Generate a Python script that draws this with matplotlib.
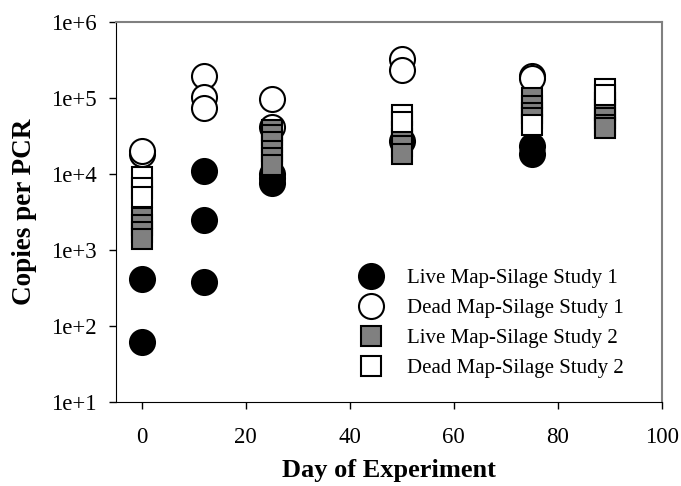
import numpy as np
from matplotlib import pyplot as plt

plt.rcParams['font.family'] = ['Liberation Serif', 'DejaVu Serif']

# day, copies per PCR
live1_day = [0, 0, 12, 12, 12, 25, 25, 25, 50, 75, 75]
live1_val = [62, 420, 11000, 2450, 380, 10000, 8900, 7600, 27000, 23000, 18000]

dead1_day = [0, 0, 12, 12, 12, 25, 25, 50, 50, 75, 75]
dead1_val = [18000, 20000, 194000, 103000, 74000, 98000, 41000, 320000, 230000, 196000, 180000]

live2_day = [0, 0, 0, 0, 25, 25, 25, 25, 25, 25, 50, 50, 50, 50,
             75, 75, 75, 75, 89, 89, 89, 89, 89]
live2_val = [2600, 2100, 1700, 1400, 38000, 32000, 26000, 20000, 16000, 13000,
             36000, 29000, 23000, 18000, 100000, 78000, 63000, 55000,
             86000, 69000, 55000, 44000, 40000]

dead2_day = [0, 0, 0, 50, 50, 75, 89, 89]
dead2_val = [9100, 6600, 5000, 60000, 48000, 44000, 130000, 110000]

labels = ['Live Map-Silage Study 1', 'Dead Map-Silage Study 1',
          'Live Map-Silage Study 2', 'Dead Map-Silage Study 2']

fig = plt.figure(figsize=(6.81, 4.86), dpi=100)
ax = fig.add_axes([0.170, 0.173, 0.802, 0.782])

ax.plot(live1_day, live1_val, 'o', ms=18, mfc='black', mec='black', mew=1.5, label=labels[0])
ax.plot(dead1_day, dead1_val, 'o', ms=18, mfc='white', mec='black', mew=1.5, label=labels[1])
ax.plot(live2_day, live2_val, 's', ms=14.5, mfc='#808080', mec='black', mew=1.5, label=labels[2])
ax.plot(dead2_day, dead2_val, 's', ms=14.5, mfc='white', mec='black', mew=1.5, label=labels[3])

ax.set_yscale('log')
ax.set_ylim(10, 1e6)
ax.set_xlim(-5, 100)
ax.set_xticks(np.arange(0, 101, 20))
ax.set_yticks([1e1, 1e2, 1e3, 1e4, 1e5, 1e6])
ax.set_yticklabels(['1e+1', '1e+2', '1e+3', '1e+4', '1e+5', '1e+6'])
ax.yaxis.set_minor_locator(plt.NullLocator())
ax.tick_params(direction='out', length=5, width=1, labelsize=16.5)
ax.tick_params(axis='y', pad=8.5)
ax.tick_params(axis='x', pad=13)

for side in ['top', 'right']:
    ax.spines[side].set_color('#808080')
    ax.spines[side].set_linewidth(1.5)

ax.set_xlabel('Day of Experiment', fontsize=19, fontweight='bold', labelpad=8)
ax.set_ylabel('Copies per PCR', fontsize=19.5, fontweight='bold', labelpad=10)

ax.legend(loc='upper left', bbox_to_anchor=(0.448, 0.35), frameon=False, fontsize=15,
          handlelength=1.0, handletextpad=1.23, labelspacing=0.5, borderpad=0,
          borderaxespad=0)

fig.savefig('out.png', dpi=100)
